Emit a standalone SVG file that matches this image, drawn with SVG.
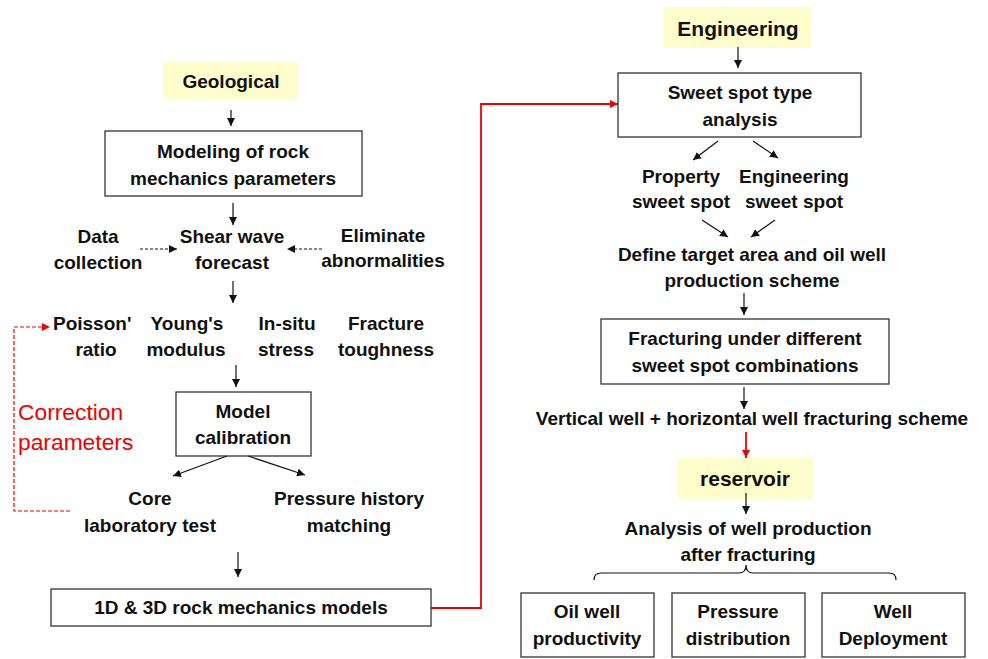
<svg xmlns="http://www.w3.org/2000/svg" width="988" height="659" viewBox="0 0 988 659">
<style>
.t{font-family:"Liberation Sans",Arial,sans-serif;font-weight:bold;font-size:19px;text-anchor:middle;fill:#111}
.h{font-size:21px}
.box{fill:#fff;stroke:#333;stroke-width:1.3}
.hl{fill:#FFFDCB;stroke:none}
.ln{stroke:#111;stroke-width:1.2;fill:none}
.dl{stroke:#111;stroke-width:1;fill:none;stroke-dasharray:3,2}
.rl{stroke:#e00;stroke-width:1.8;fill:none}
.rd{stroke:#e00;stroke-width:1.2;fill:none;stroke-dasharray:4,2}
.red{font-family:"Liberation Sans",Arial,sans-serif;font-size:22.8px;fill:#e00}
</style>
<defs>
<marker id="a" markerUnits="userSpaceOnUse" markerWidth="9" markerHeight="8" refX="8" refY="4" orient="auto"><path d="M0,0 L8,4 L0,8 z" fill="#111"/></marker>
<marker id="ar" markerUnits="userSpaceOnUse" markerWidth="9" markerHeight="8" refX="8" refY="4" orient="auto"><path d="M0,0 L8,4 L0,8 z" fill="#e00"/></marker>
</defs>
<rect width="988" height="659" fill="#fff"/>

<g id="geological"><rect class="hl" x="163" y="62" width="135" height="38"/><text class="t" x="231" y="88">Geological</text></g>
<g id="modeling"><rect class="box" x="105" y="131" width="257" height="65"/><text class="t" x="233" y="158">Modeling of rock</text><text class="t" x="233" y="185">mechanics parameters</text></g>
<g id="data"><text class="t" x="98" y="243">Data</text><text class="t" x="98" y="269">collection</text></g>
<g id="shear"><text class="t" x="232" y="243">Shear wave</text><text class="t" x="232" y="269">forecast</text></g>
<g id="eliminate"><text class="t" x="383" y="242">Eliminate</text><text class="t" x="383" y="267">abnormalities</text></g>
<g id="poisson"><text class="t" x="53" y="330" style="text-anchor:start">Poisson'</text><text class="t" x="96" y="356">ratio</text></g>
<g id="young"><text class="t" x="187" y="330">Young's</text><text class="t" x="186" y="356">modulus</text></g>
<g id="insitu"><text class="t" x="287" y="330">In-situ</text><text class="t" x="286" y="356">stress</text></g>
<g id="fracture"><text class="t" x="386" y="330">Fracture</text><text class="t" x="386" y="356">toughness</text></g>
<g id="correction"><text class="red" x="18" y="420">Correction</text><text class="red" x="18" y="450">parameters</text></g>
<g id="calibration"><rect class="box" x="176" y="392" width="135" height="64"/><text class="t" x="243" y="418">Model</text><text class="t" x="243" y="444">calibration</text></g>
<g id="core"><text class="t" x="150" y="505">Core</text><text class="t" x="150" y="532">laboratory test</text></g>
<g id="pressure"><text class="t" x="349" y="505">Pressure history</text><text class="t" x="349" y="532">matching</text></g>
<g id="models"><rect class="box" x="51" y="589" width="380" height="37"/><text class="t" x="241" y="614">1D &amp; 3D rock mechanics models</text></g>

<g id="engineering"><rect class="hl" x="664" y="7" width="148" height="41"/><text class="t h" x="738" y="36">Engineering</text></g>
<g id="sweet"><rect class="box" x="618" y="73" width="243" height="64"/><text class="t" x="740" y="99">Sweet spot type</text><text class="t" x="740" y="126">analysis</text></g>
<g id="property"><text class="t" x="681" y="183">Property</text><text class="t" x="681" y="208">sweet spot</text></g>
<g id="engsweet"><text class="t" x="794" y="183">Engineering</text><text class="t" x="794" y="208">sweet spot</text></g>
<g id="define"><text class="t" x="752" y="261">Define target area and oil well</text><text class="t" x="752" y="287">production scheme</text></g>
<g id="fracturing"><rect class="box" x="601" y="319" width="288" height="65"/><text class="t" x="745" y="345">Fracturing under different</text><text class="t" x="745" y="372">sweet spot combinations</text></g>
<g id="vertical"><text class="t" x="752" y="425">Vertical well + horizontal well fracturing scheme</text></g>
<g id="reservoir"><rect class="hl" x="678" y="458" width="135" height="41"/><text class="t h" x="745" y="486">reservoir</text></g>
<g id="analysis"><text class="t" x="748" y="535">Analysis of well production</text><text class="t" x="748" y="561">after fracturing</text></g>
<g id="oilwell"><rect class="box" x="521" y="593" width="133" height="64"/><text class="t" x="587" y="618">Oil well</text><text class="t" x="587" y="645">productivity</text></g>
<g id="pdist"><rect class="box" x="672" y="593" width="133" height="64"/><text class="t" x="738" y="618">Pressure</text><text class="t" x="738" y="645">distribution</text></g>
<g id="deploy"><rect class="box" x="822" y="593" width="143" height="64"/><text class="t" x="893" y="618">Well</text><text class="t" x="893" y="645">Deployment</text></g>

<g id="connectors">
<line class="ln" x1="231" y1="110" x2="231" y2="126" marker-end="url(#a)"/>
<line class="ln" x1="233" y1="203" x2="233" y2="225" marker-end="url(#a)"/>
<line class="dl" x1="140" y1="249" x2="177" y2="249" marker-end="url(#a)"/>
<line class="dl" x1="322" y1="249" x2="287" y2="249" marker-end="url(#a)"/>
<line class="ln" x1="233" y1="281" x2="233" y2="303" marker-end="url(#a)"/>
<line class="ln" x1="236" y1="365" x2="236" y2="387" marker-end="url(#a)"/>
<line class="ln" x1="227" y1="456" x2="173" y2="476" marker-end="url(#a)"/>
<line class="ln" x1="248" y1="456" x2="305" y2="475" marker-end="url(#a)"/>
<line class="ln" x1="238" y1="552" x2="238" y2="577" marker-end="url(#a)"/>
<path class="rd" d="M70,511 L14,511 L14,327 L50,327" marker-end="url(#ar)"/>
<path class="rl" d="M431,608 L481,608 L481,104 L618,104" marker-end="url(#ar)"/>
<line class="ln" x1="738" y1="47" x2="738" y2="68" marker-end="url(#a)"/>
<line class="ln" x1="718" y1="141" x2="693" y2="160" marker-end="url(#a)"/>
<line class="ln" x1="753" y1="141" x2="778" y2="158" marker-end="url(#a)"/>
<line class="ln" x1="702" y1="220" x2="728" y2="237" marker-end="url(#a)"/>
<line class="ln" x1="775" y1="220" x2="751" y2="237" marker-end="url(#a)"/>
<line class="ln" x1="744" y1="293" x2="744" y2="315" marker-end="url(#a)"/>
<line class="ln" x1="744" y1="387" x2="744" y2="409" marker-end="url(#a)"/>
<line class="rl" x1="746" y1="432" x2="746" y2="458" marker-end="url(#ar)"/>
<line class="ln" x1="746" y1="493" x2="746" y2="514" marker-end="url(#a)"/>
<path class="ln" d="M594,580 Q594,573 601,573 L739,573 Q746,573 746,565 Q746,573 753,573 L889,573 Q896,573 896,580"/>
</g>
</svg>
